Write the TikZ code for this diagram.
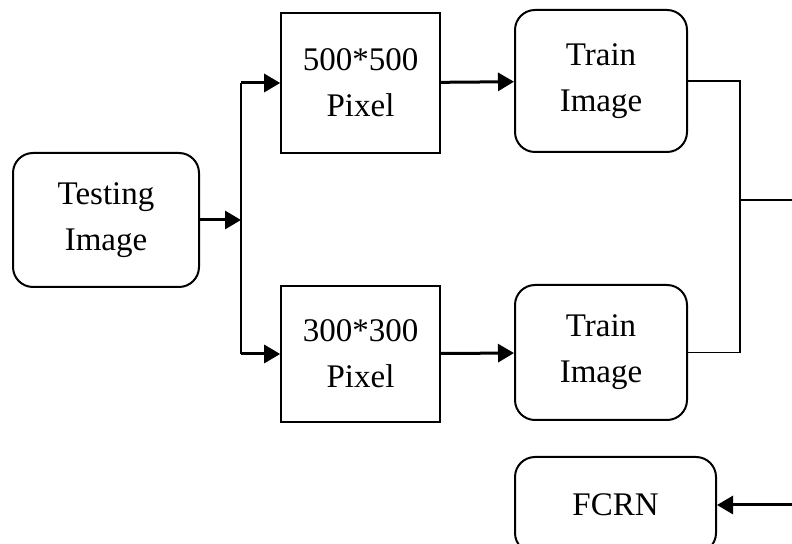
\documentclass[tikz,border=0pt]{standalone}
\usepackage{fontspec}
\setmainfont{Liberation Serif}
\usetikzlibrary{positioning,arrows.meta}
\tikzset{
  rbox/.style={rectangle, draw=black, line width=1pt, rounded corners=10pt, align=center, font=\fontsize{16.5}{23}\selectfont},
  sbox/.style={rectangle, draw=black, line width=0.8pt, align=center, font=\fontsize{16.5}{23}\selectfont},
  conn/.style={draw, line width=1.5pt, -{Triangle[length=8pt,width=9pt]}},
  wire/.style={draw, line width=0.6pt},
}
\begin{document}
\begin{tikzpicture}[x=0.5pt,y=-0.5pt]
    \useasboundingbox (0,0) rectangle (792,544);
    \clip (0,0) rectangle (792,544);

    \node[rbox, minimum width=93pt, minimum height=67pt] (test) at (106,220) {Testing\\Image};
    \node[sbox, minimum width=79.5pt, minimum height=70pt] (p500) at (360.5,83) {500*500\\Pixel};
    \node[sbox, minimum width=79.5pt, minimum height=68pt] (p300) at (360.5,354) {300*300\\Pixel};
    \node[rbox, minimum width=86pt, minimum height=71pt] (tr1) at (601,81) {Train\\Image};
    \node[rbox, minimum width=86pt, minimum height=67.5pt] (tr2) at (601,352.5) {Train\\Image};
    \node[rbox, minimum width=100.5pt, minimum height=48pt] (fcrn) at (615.5,505) {FCRN};

    \coordinate (split) at (241,220);
    \coordinate (join) at (740,200);
    \coordinate (out) at (792,200);
    \coordinate (in) at (792,505);

    % split towards both resolutions
    \path[conn] (test) -- (split);
    \draw[line width=1pt] (split |- p500.west) -- (split |- p300.west);
    \path[conn] (split |- p500.west) -- (p500.west);
    \path[conn] (split |- p300.west) -- (p300.west);

    \path[conn] (p500) -- (tr1);
    \path[conn] (p300) -- (tr2);

    % merge of the train images
    \path[wire] (tr1.east) -| (join |- tr2.east) -- (tr2.east);
    \path[wire] (join) -- (out);
    \path[conn] (in) -- (fcrn);
\end{tikzpicture}
\end{document}
